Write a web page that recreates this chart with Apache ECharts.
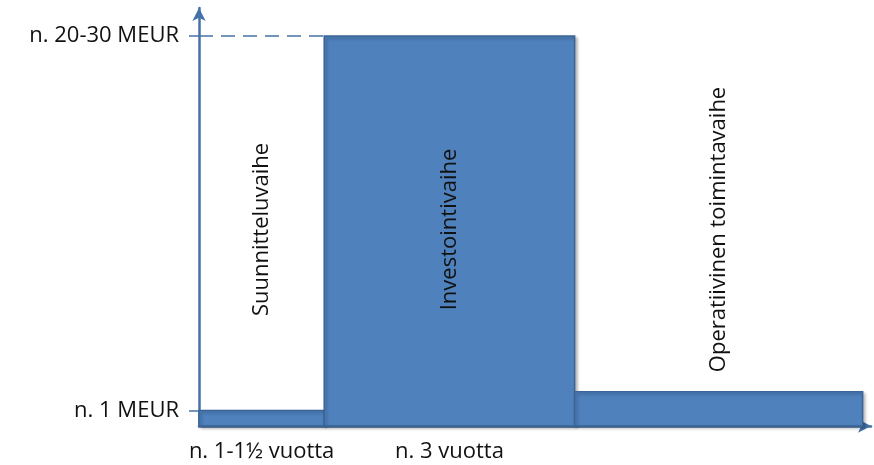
<!DOCTYPE html>
<html>
<head>
<meta charset="utf-8">
<script src="https://cdn.jsdelivr.net/npm/echarts@6/dist/echarts.min.js"></script>
<style>
  html, body { margin: 0; padding: 0; background: #fff; }
</style>
</head>
<body>
<div id="phaseChart" style="width: 874px; height: 465px;"></div>
<script>
// vaiheet: nimi, alku (v), loppu (v), kustannus (MEUR)
const phaseNames = ["Suunnitteluvaihe", "Investointivaihe", "Operatiivinen toimintavaihe"];
const phaseStart = [0, 1.5, 4.5];
const phaseEnd = [1.5, 4.5, 7.95];
const phaseCost = [1, 25, 2.2];

// akselien merkinnät
const yTickValues = [1, 25];
const yTickLabels = ["n. 1 MEUR", "n. 20-30 MEUR"];
const xTickValues = [0.75, 3];
const xTickLabels = ["n. 1-1½ vuotta", "n. 3 vuotta"];

// katkoviiva investointitasolle
const dashLine = [[0, 25], [1.5, 25]];

const FONT = "Open Sans";
const FONT_SIZE = 22;
const AXIS_COLOR = "#4472a8";

let chart = echarts.init(document.getElementById("phaseChart"));

let phaseData = phaseNames.map(function (name, i) {
  return [phaseStart[i], phaseEnd[i], phaseCost[i], name];
});

let option = {
  animation: false,
  grid: { left: 199, right: 3, top: 8, bottom: 39 },
  xAxis: {
    type: "value",
    min: 0,
    max: 8.05,
    axisLine: {
      show: true,
      symbol: ["none", "arrow"],
      symbolSize: [10, 13],
      lineStyle: { color: AXIS_COLOR, width: 2.5 },
    },
    axisTick: { show: false },
    splitLine: { show: false },
    axisLabel: {
      customValues: xTickValues,
      margin: 15,
      color: "#111",
      fontFamily: FONT,
      fontSize: FONT_SIZE,
      formatter: function (v) {
        let i = xTickValues.indexOf(v);
        return i >= 0 ? xTickLabels[i] : "";
      },
    },
  },
  yAxis: {
    type: "value",
    min: 0,
    max: 26.8,
    axisLine: {
      show: true,
      symbol: ["none", "arrow"],
      symbolSize: [10, 13],
      lineStyle: { color: AXIS_COLOR, width: 2.5 },
    },
    axisTick: {
      show: true,
      customValues: yTickValues,
      length: 10,
      lineStyle: { color: AXIS_COLOR, width: 1.5 },
    },
    splitLine: { show: false },
    axisLabel: {
      customValues: yTickValues,
      margin: 20,
      color: "#111",
      fontFamily: FONT,
      fontSize: FONT_SIZE,
      formatter: function (v) {
        let i = yTickValues.indexOf(v);
        return i >= 0 ? yTickLabels[i] : "";
      },
    },
  },
  series: [
    {
      type: "custom",
      data: phaseData,
      z: 1,
      renderItem: function (params, api) {
        let p0 = api.coord([api.value(0), api.value(2)]);
        let p1 = api.coord([api.value(1), 0]);
        let mid = api.coord([(api.value(0) + api.value(1)) / 2, 12.6]);
        return {
          type: "group",
          children: [
            {
              type: "rect",
              shape: { x: p0[0], y: p0[1], width: p1[0] - p0[0], height: p1[1] - p0[1] },
              style: {
                fill: "#4f81bd",
                stroke: "#3b6596",
                lineWidth: 1.5,
                shadowBlur: 3,
                shadowOffsetX: 2,
                shadowOffsetY: 2,
                shadowColor: "rgba(0,0,0,0.25)",
              },
            },
            {
              type: "text",
              x: mid[0],
              y: mid[1],
              rotation: Math.PI / 2,
              style: {
                text: phaseNames[params.dataIndex],
                fill: "#111",
                font: FONT_SIZE + "px '" + FONT + "'",
                align: "center",
                verticalAlign: "middle",
              },
            },
          ],
        };
      },
    },
    {
      type: "line",
      data: dashLine,
      symbol: "none",
      z: 0,
      lineStyle: { color: AXIS_COLOR, width: 1.5, type: [14, 8] },
    },
  ],
};

chart.setOption(option);
</script>
</body>
</html>
